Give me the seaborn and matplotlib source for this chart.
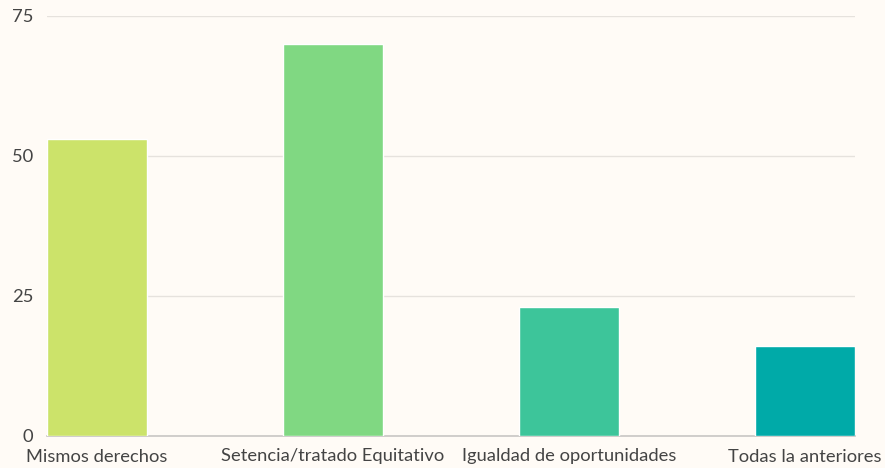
import numpy as np
import pandas as pd
import matplotlib
matplotlib.use("Agg")
import matplotlib.pyplot as plt
import seaborn as sns

# Data
categories = ["Mismos derechos", "Setencia/tratado Equitativo",
              "Igualdad de oportunidades", "Todas la anteriores"]
values = [53, 70, 23, 16]
bar_colors = ["#cce36a", "#80d882", "#3dc59a", "#00aaa8"]
y_ticks = [0, 25, 50, 75]

bg = "#fffbf6"

sns.set_style("white")
plt.rcParams["font.family"] = ["Lato", "DejaVu Sans"]

df = pd.DataFrame({"category": categories, "value": values})

fig = plt.figure(figsize=(8.85, 4.68), dpi=100, facecolor=bg)
ax = fig.add_axes([47 / 885, 1 - 436 / 468, (855 - 47) / 885, (436 - 16) / 468])
ax.set_facecolor(bg)

sns.barplot(data=df, x="category", y="value", hue="category",
            palette=bar_colors, width=0.425, legend=False, ax=ax,
            saturation=1, zorder=3)

ax.set_xlim(-0.2125, 3.2125)
ax.set_ylim(0, 75)
ax.set_yticks(y_ticks)
ax.yaxis.grid(True, color="#e6e2dd", linewidth=1, zorder=0)
ax.set_axisbelow(True)

for s in ["top", "right", "left"]:
    ax.spines[s].set_visible(False)
ax.spines["bottom"].set_color("#c8c6c4")
ax.spines["bottom"].set_linewidth(1.2)

ax.tick_params(axis="both", length=0, labelsize=13.2, colors="#444444")
ax.tick_params(axis="y", pad=10)
ax.tick_params(axis="x", pad=9)
ax.set_xlabel("")
ax.set_ylabel("")

fig.savefig("out.png", dpi=100, facecolor=bg)
